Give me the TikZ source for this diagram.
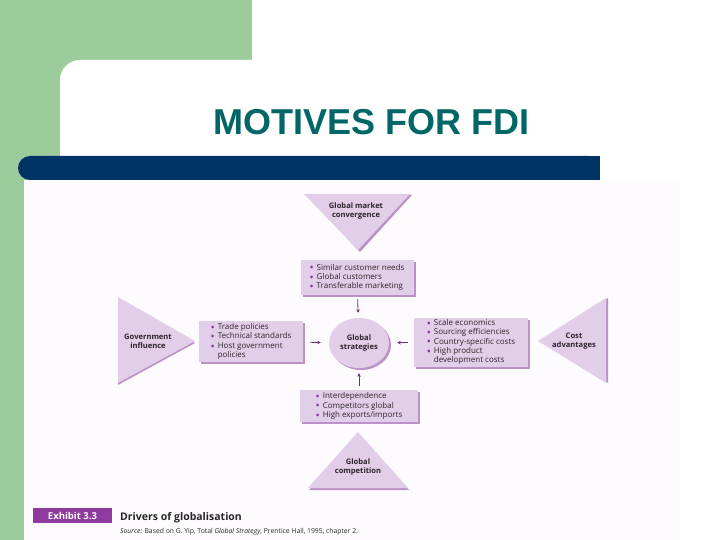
\documentclass[tikz,border=0pt]{standalone}
\usepackage{fontspec}
\setmainfont{Open Sans}
\newfontfamily\titlefont{Liberation Sans}
\usetikzlibrary{shapes.geometric,arrows.meta,shadows}
\definecolor{greenc}{RGB}{156,204,156}
\definecolor{barc}{RGB}{0,51,102}
\definecolor{titlec}{RGB}{0,102,102}
\definecolor{boxc}{RGB}{226,206,232}
\definecolor{shadc}{RGB}{186,146,198}
\definecolor{bulc}{RGB}{130,50,150}
\definecolor{arrc}{RGB}{110,50,120}
\definecolor{txtc}{RGB}{45,35,45}
\definecolor{exhc}{RGB}{142,58,158}
\definecolor{bgc}{RGB}{253,251,253}
\newcommand\bul{\textcolor{bulc}{\smash{\raisebox{-1.8pt}{\fontsize{11}{9}\selectfont\char"2022}}}\hspace{3pt}}
\begin{document}
\begin{tikzpicture}[x=1pt,y=-1pt,
  shad/.style={drop shadow={shadow xshift=2pt,shadow yshift=-2pt,fill=shadc,opacity=1}},
  lbox/.style={fill=boxc, shad, align=left, font=\fontsize{8}{9.4}\selectfont, text=txtc, inner sep=0pt},
  tri/.style={fill=boxc},
  trishad/.style={fill=shadc},
  lab/.style={align=center, font=\fontsize{7.6}{9.4}\selectfont\bfseries, text=txtc},
  arr/.style={draw=arrc, line width=0.8pt, -{Stealth[length=3.5pt,width=3.5pt]}}
]
\useasboundingbox (0,0) rectangle (720,540);
\fill[white] (0,0) rectangle (720,540);
\fill[greenc] (0,0) rectangle (252,180);
\fill[greenc] (0,0) rectangle (60,540);
\begin{scope}
\clip (0,0) rectangle (720,540);
\fill[white, rounded corners=20pt] (60,60) rectangle (760,580);
\end{scope}
\fill[white] (24,180) rectangle (720,540);
\fill[bgc] (24,180) rectangle (680,540);
\fill[barc, rounded corners=12pt] (18,156) rectangle (600,180);
\fill[barc] (580,156) rectangle (600,180);
\node[anchor=base, font=\titlefont\fontsize{36}{40}\selectfont\bfseries, text=titlec, inner sep=0pt] (title) at (371.5,135) {MOTIVES FOR FDI};
% triangles
\fill[trishad] (306,195) -- (412,195) -- (360,252) -- cycle;
\fill[tri] (304,194) -- (410,194) -- (358,250) -- cycle;
\node[lab] (gmc) at (356,211) {Global market\\convergence};
\fill[trishad] (118,299) -- (118,385) -- (195,343) -- cycle;
\fill[tri] (118,297) -- (118,383) -- (195,341) -- cycle;
\node[lab] (gov) at (148,341) {Government\\influence};
\fill[trishad] (608,298) -- (608,383) -- (540,341) -- cycle;
\fill[tri] (606,298) -- (606,383) -- (538,341) -- cycle;
\node[lab] (cost) at (574,341) {Cost\\advantages};
\fill[trishad] (359,434) -- (309,490) -- (409,490) -- cycle;
\fill[tri] (358,432) -- (308,488) -- (408,488) -- cycle;
\node[lab] (comp) at (358,467) {Global\\competition};
% boxes
\node[lbox, minimum width=113pt, minimum height=35pt] (b1) at (357,277.5) {\bul Similar customer needs\\\bul Global customers\\\bul Transferable marketing};
\node[lbox, minimum width=104pt, minimum height=41pt] (b2) at (251,341.5) {\bul Trade policies\\\bul Technical standards\\\bul Host government\\\phantom{\bul}policies};
\node[lbox, minimum width=114pt, minimum height=49pt] (b3) at (471,342) {\bul Scale economics\\\bul Sourcing efficiencies\\\bul Country-specific costs\\\bul High product\\\phantom{\bul}development costs};
\node[lbox, minimum width=118pt, minimum height=32pt] (b4) at (359,406) {\bul Interdependence\\\bul Competitors global\\\bul High exports/imports};
\node[ellipse, fill=boxc, shad, minimum width=60pt, minimum height=50pt, inner sep=0pt, lab] (circ) at (359,343) {Global\\strategies};
% arrows
\draw[arr, shorten <=4pt, shorten >=5pt] (b1) -- (circ);
\draw[arr, shorten <=4pt, shorten >=5pt] (b4) -- (circ);
\draw[arr, shorten <=7pt, shorten >=8pt] (b2) -- (circ);
\draw[arr, shorten <=6pt, shorten >=8pt] (b3) -- (circ);
% caption
\node[fill=exhc, text=white, font=\fontsize{9.5}{11}\selectfont\bfseries, minimum width=79pt, minimum height=15pt, inner sep=0pt] (exh) at (72.5,515.5) {Exhibit 3.3};
\node[anchor=base west, font=\fontsize{10.5}{12}\selectfont\bfseries, text=txtc, inner sep=0pt] (drv) at (120,520) {Drivers of globalisation};
\node[anchor=base west, font=\fontsize{6.8}{8}\selectfont, text=txtc, inner sep=0pt] (src) at (120,533) {\textit{Source:} Based on G. Yip, Total \textit{Global Strategy}, Prentice Hall, 1995, chapter 2.};
\end{tikzpicture}
\end{document}
